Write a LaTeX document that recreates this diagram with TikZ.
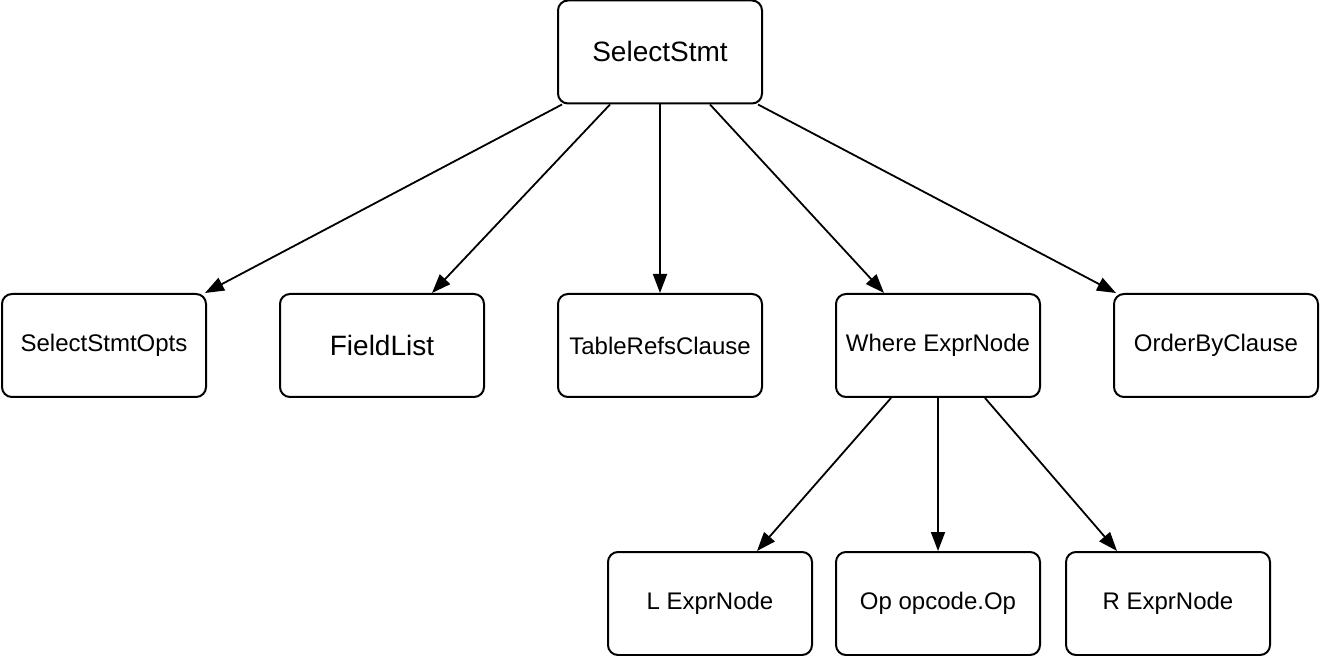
\documentclass[tikz,border=0pt]{standalone}
\usepackage{fontspec}
\setmainfont{Liberation Sans}
\usetikzlibrary{arrows.meta}
\begin{document}
\begin{tikzpicture}[x=0.5pt,y=-0.5pt,
  box/.style={draw, line width=1pt, rounded corners=5pt, minimum width=102pt, minimum height=51.5pt, inner sep=0pt, font=\fontsize{12}{14}\selectfont},
  bigbox/.style={box, font=\fontsize{14}{17}\selectfont},
  conn/.style={line width=0.9pt, -{Triangle[length=9.5pt,width=7pt]}}]
\useasboundingbox (0,0) rectangle (1320,656);
\node[bigbox] (s) at (660,52) {SelectStmt};
\node[box] (a) at (104,345.5) {SelectStmtOpts};
\node[bigbox] (f) at (382,345.5) {FieldList};
\node[box] (t) at (660,345.5) {TableRefsClause};
\node[box] (w) at (938,345.5) {Where ExprNode};
\node[box] (o) at (1216,345.5) {OrderByClause};
\node[box] (l) at (710,603.5) {L ExprNode};
\node[box] (op) at (938,603.5) {Op opcode.Op};
\node[box] (r) at (1168,603.5) {R ExprNode};
\draw[conn] ([xshift=2.5pt]s.south west) -- ([xshift=-1pt]a.north east);
\draw[conn] ([xshift=-25pt]s.south) -- ([xshift=25pt]f.north);
\draw[conn] (s.south) -- (t.north);
\draw[conn] ([xshift=25pt]s.south) -- ([xshift=24.5pt]w.north west);
\draw[conn] ([xshift=-2.5pt]s.south east) -- ([xshift=1.5pt]o.north west);
\draw[conn] ([xshift=-23.5pt]w.south) -- ([xshift=23.5pt]l.north);
\draw[conn] (w.south) -- (op.north);
\draw[conn] ([xshift=23.5pt]w.south) -- ([xshift=-25.5pt]r.north);
\end{tikzpicture}
\end{document}
